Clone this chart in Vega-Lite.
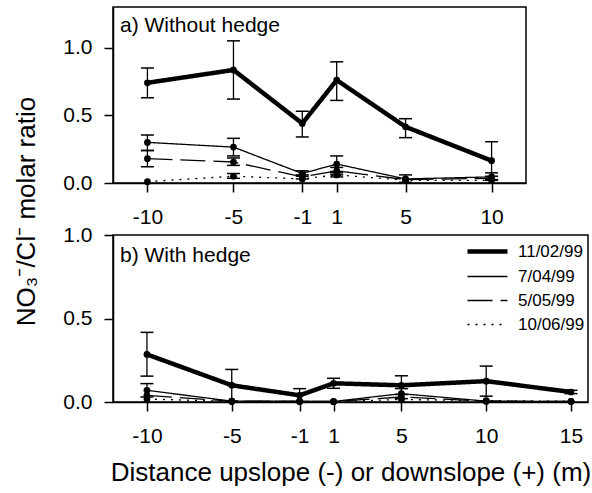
{
  "$schema": "https://vega.github.io/schema/vega-lite/v6.json",
  "background": "white",
  "padding": {"left": 12, "top": 6, "right": 2, "bottom": 2},
  "config": {
    "font": "Liberation Sans",
    "view": {"stroke": "black", "strokeWidth": 1.5},
    "axis": {
      "grid": false,
      "domainColor": "black",
      "domainWidth": 1.5,
      "tickColor": "black",
      "tickWidth": 1.5,
      "tickSize": 9,
      "labelFont": "Liberation Sans",
      "labelFontSize": 21,
      "labelColor": "black",
      "titleFont": "Liberation Sans",
      "titleFontSize": 26,
      "titleFontWeight": "normal",
      "titleColor": "black"
    },
    "axisX": {"labelPadding": 14},
    "axisY": {"labelPadding": 12},
    "legend": {"labelFont": "Liberation Sans", "labelFontSize": 17, "labelColor": "black"},
    "title": {"font": "Liberation Sans", "fontSize": 21, "fontWeight": "normal", "color": "black"}
  },
  "datasets": {
    "obs": [
      {"panel": "a", "date": "11/02/99", "distance": -10, "value": 0.74, "lo": 0.63, "hi": 0.85},
      {"panel": "a", "date": "11/02/99", "distance": -5, "value": 0.835, "lo": 0.62, "hi": 1.05},
      {"panel": "a", "date": "11/02/99", "distance": -1, "value": 0.44, "lo": 0.34, "hi": 0.53},
      {"panel": "a", "date": "11/02/99", "distance": 1, "value": 0.76, "lo": 0.61, "hi": 0.895},
      {"panel": "a", "date": "11/02/99", "distance": 5, "value": 0.415, "lo": 0.335, "hi": 0.475},
      {"panel": "a", "date": "11/02/99", "distance": 10, "value": 0.165, "lo": 0.025, "hi": 0.305},
      {"panel": "a", "date": "7/04/99", "distance": -10, "value": 0.3, "lo": 0.24, "hi": 0.355},
      {"panel": "a", "date": "7/04/99", "distance": -5, "value": 0.265, "lo": 0.2, "hi": 0.33},
      {"panel": "a", "date": "7/04/99", "distance": -1, "value": 0.07, "lo": 0.05, "hi": 0.09},
      {"panel": "a", "date": "7/04/99", "distance": 1, "value": 0.14, "lo": 0.085, "hi": 0.2},
      {"panel": "a", "date": "7/04/99", "distance": 5, "value": 0.03, "lo": 0.005, "hi": 0.06},
      {"panel": "a", "date": "7/04/99", "distance": 10, "value": 0.045, "lo": 0.02, "hi": 0.075},
      {"panel": "a", "date": "5/05/99", "distance": -10, "value": 0.18, "lo": 0.12, "hi": 0.24},
      {"panel": "a", "date": "5/05/99", "distance": -5, "value": 0.155, "lo": 0.13, "hi": 0.185},
      {"panel": "a", "date": "5/05/99", "distance": -1, "value": 0.045, "lo": 0.03, "hi": 0.06},
      {"panel": "a", "date": "5/05/99", "distance": 1, "value": 0.09, "lo": 0.06, "hi": 0.115},
      {"panel": "a", "date": "5/05/99", "distance": 5, "value": 0.025},
      {"panel": "a", "date": "5/05/99", "distance": 10, "value": 0.035, "lo": 0.02, "hi": 0.05},
      {"panel": "a", "date": "10/06/99", "distance": -10, "value": 0.01},
      {"panel": "a", "date": "10/06/99", "distance": -5, "value": 0.05, "lo": 0.035, "hi": 0.07},
      {"panel": "a", "date": "10/06/99", "distance": -1, "value": 0.03},
      {"panel": "a", "date": "10/06/99", "distance": 1, "value": 0.06, "lo": 0.045, "hi": 0.075},
      {"panel": "a", "date": "10/06/99", "distance": 5, "value": 0.02},
      {"panel": "a", "date": "10/06/99", "distance": 10, "value": 0.02},
      {"panel": "b", "date": "11/02/99", "distance": -10, "value": 0.285, "lo": 0.155, "hi": 0.417},
      {"panel": "b", "date": "11/02/99", "distance": -5, "value": 0.1, "lo": 0.005, "hi": 0.195},
      {"panel": "b", "date": "11/02/99", "distance": -1, "value": 0.04, "lo": 0.0, "hi": 0.08},
      {"panel": "b", "date": "11/02/99", "distance": 1, "value": 0.112, "lo": 0.082, "hi": 0.142},
      {"panel": "b", "date": "11/02/99", "distance": 5, "value": 0.1, "lo": 0.045, "hi": 0.157},
      {"panel": "b", "date": "11/02/99", "distance": 10, "value": 0.125, "lo": 0.035, "hi": 0.215},
      {"panel": "b", "date": "11/02/99", "distance": 15, "value": 0.06, "lo": 0.05, "hi": 0.07},
      {"panel": "b", "date": "7/04/99", "distance": -10, "value": 0.07, "lo": 0.03, "hi": 0.11},
      {"panel": "b", "date": "7/04/99", "distance": -5, "value": 0.005},
      {"panel": "b", "date": "7/04/99", "distance": -1, "value": 0.005},
      {"panel": "b", "date": "7/04/99", "distance": 1, "value": 0.003},
      {"panel": "b", "date": "7/04/99", "distance": 5, "value": 0.05, "lo": 0.02, "hi": 0.08},
      {"panel": "b", "date": "7/04/99", "distance": 10, "value": 0.005},
      {"panel": "b", "date": "7/04/99", "distance": 15, "value": 0.003},
      {"panel": "b", "date": "5/05/99", "distance": -10, "value": 0.04},
      {"panel": "b", "date": "5/05/99", "distance": -5, "value": 0.005},
      {"panel": "b", "date": "5/05/99", "distance": -1, "value": 0.003},
      {"panel": "b", "date": "5/05/99", "distance": 1, "value": 0.003},
      {"panel": "b", "date": "5/05/99", "distance": 5, "value": 0.03},
      {"panel": "b", "date": "5/05/99", "distance": 10, "value": 0.005},
      {"panel": "b", "date": "5/05/99", "distance": 15, "value": 0.003},
      {"panel": "b", "date": "10/06/99", "distance": -10, "value": 0.018},
      {"panel": "b", "date": "10/06/99", "distance": -5, "value": 0.003},
      {"panel": "b", "date": "10/06/99", "distance": -1, "value": 0.003},
      {"panel": "b", "date": "10/06/99", "distance": 1, "value": 0.002},
      {"panel": "b", "date": "10/06/99", "distance": 5, "value": 0.015},
      {"panel": "b", "date": "10/06/99", "distance": 10, "value": 0.008},
      {"panel": "b", "date": "10/06/99", "distance": 15, "value": 0.004}
    ]
  },
  "vconcat": [
    {
      "width": 413,
      "height": 176,
      "data": {"name": "obs"},
      "transform": [{"filter": "datum.panel === 'a'"}],
      "title": {"text": "a) Without hedge", "anchor": "start", "frame": "group", "baseline": "alphabetic", "offset": -46, "dx": 7},
      "encoding": {
        "x": {
          "field": "distance", "type": "quantitative",
          "scale": {"domain": [-12, 12], "nice": false, "zero": false},
          "axis": {"values": [-10, -5, -1, 1, 5, 10], "title": null, "labelExpr": "'' + datum.value"}
        }
      },
      "layer": [
        {
          "mark": {"type": "rule", "color": "black", "strokeWidth": 1.3},
          "encoding": {
            "y": {"field": "lo", "type": "quantitative", "title": "NO₃⁻/Cl⁻ molar ratio", "scale": {"domain": [0, 1.3], "nice": false}},
            "y2": {"field": "hi"}
          }
        },
        {
          "mark": {"type": "tick", "orient": "horizontal", "color": "black", "size": 13, "thickness": 1.5, "opacity": 1},
          "encoding": {"y": {"field": "lo", "type": "quantitative", "title": "NO₃⁻/Cl⁻ molar ratio"}}
        },
        {
          "mark": {"type": "tick", "orient": "horizontal", "color": "black", "size": 13, "thickness": 1.5, "opacity": 1},
          "encoding": {"y": {"field": "hi", "type": "quantitative", "title": "NO₃⁻/Cl⁻ molar ratio"}}
        },
        {
          "mark": {"type": "line", "color": "black"},
          "encoding": {
            "y": {
              "field": "value", "type": "quantitative", "title": "NO₃⁻/Cl⁻ molar ratio",
              "axis": {"values": [0, 0.5, 1.0], "format": ".1f", "tickSize": 9, "labelPadding": 12, "titleBaseline": "alphabetic", "titleX": -79, "titleY": 204, "titleAlign": "center", "titleAngle": -90}
            },
            "strokeDash": {
              "field": "date", "type": "nominal",
              "scale": {"domain": ["11/02/99", "7/04/99", "5/05/99", "10/06/99"], "range": [[1, 0], [1, 0], [25, 8], [2, 6]]},
              "legend": null
            },
            "strokeWidth": {"condition": {"test": "datum.date === '11/02/99'", "value": 4.5}, "value": 1.3}
          }
        },
        {
          "mark": {"type": "point", "filled": true, "color": "black", "size": 45, "opacity": 1},
          "encoding": {"y": {"field": "value", "type": "quantitative", "title": "NO₃⁻/Cl⁻ molar ratio"}}
        }
      ]
    },
    {
      "width": 475,
      "height": 167,
      "data": {"name": "obs"},
      "transform": [{"filter": "datum.panel === 'b'"}],
      "title": {"text": "b) With hedge", "anchor": "start", "frame": "group", "baseline": "alphabetic", "offset": -59, "dx": 7},
      "encoding": {
        "x": {
          "field": "distance", "type": "quantitative",
          "scale": {"domain": [-12, 16], "nice": false, "zero": false},
          "axis": {"values": [-10, -5, -1, 1, 5, 10, 15], "labelExpr": "'' + datum.value", "titleBaseline": "alphabetic", "titleY": 78}
        }
      },
      "layer": [
        {
          "mark": {"type": "rule", "color": "black", "strokeWidth": 1.3},
          "encoding": {
            "x": {
              "field": "distance", "type": "quantitative", "title": "Distance upslope (-) or downslope (+) (m)",
              "scale": {"domain": [-12, 16], "nice": false, "zero": false},
              "axis": {"values": [-10, -5, -1, 1, 5, 10, 15], "labelExpr": "'' + datum.value", "titleBaseline": "alphabetic", "titleY": 78}
            },
            "y": {"field": "lo", "type": "quantitative", "title": null, "scale": {"domain": [0, 1], "nice": false}},
            "y2": {"field": "hi"}
          }
        },
        {
          "mark": {"type": "tick", "orient": "horizontal", "color": "black", "size": 13, "thickness": 1.5, "opacity": 1},
          "encoding": {"y": {"field": "lo", "type": "quantitative", "title": null}}
        },
        {
          "mark": {"type": "tick", "orient": "horizontal", "color": "black", "size": 13, "thickness": 1.5, "opacity": 1},
          "encoding": {"y": {"field": "hi", "type": "quantitative", "title": null}}
        },
        {
          "mark": {"type": "line", "color": "black"},
          "encoding": {
            "y": {"field": "value", "type": "quantitative", "title": null, "axis": {"values": [0, 0.5, 1.0], "format": ".1f", "tickSize": 9, "labelPadding": 12}},
            "strokeDash": {
              "field": "date", "type": "nominal",
              "scale": {"domain": ["11/02/99", "7/04/99", "5/05/99", "10/06/99"], "range": [[1, 0], [1, 0], [25, 8], [2, 6]]},
              "legend": {
                "orient": "none", "legendX": 366, "legendY": 8, "title": null, "padding": 0,
                "symbolType": "M-2.5,0H2.5", "symbolSize": 256, "symbolStrokeColor": "black",
                "labelOffset": 22, "rowPadding": 6,
                "encode": {"symbols": {"update": {"strokeWidth": {"signal": "datum.label === '11/02/99' ? 4.5 : 1.3"}, "stroke": {"value": "black"}}}}
              }
            },
            "strokeWidth": {"condition": {"test": "datum.date === '11/02/99'", "value": 4.5}, "value": 1.3}
          }
        },
        {
          "mark": {"type": "point", "filled": true, "color": "black", "size": 45, "opacity": 1},
          "encoding": {"y": {"field": "value", "type": "quantitative", "title": null}}
        }
      ]
    }
  ],
  "spacing": 52,
  "bounds": "flush",
  "resolve": {
    "scale": {"x": "independent", "y": "independent", "strokeDash": "independent"},
    "axis": {"x": "independent", "y": "independent"},
    "legend": {"strokeDash": "independent"}
  }
}
